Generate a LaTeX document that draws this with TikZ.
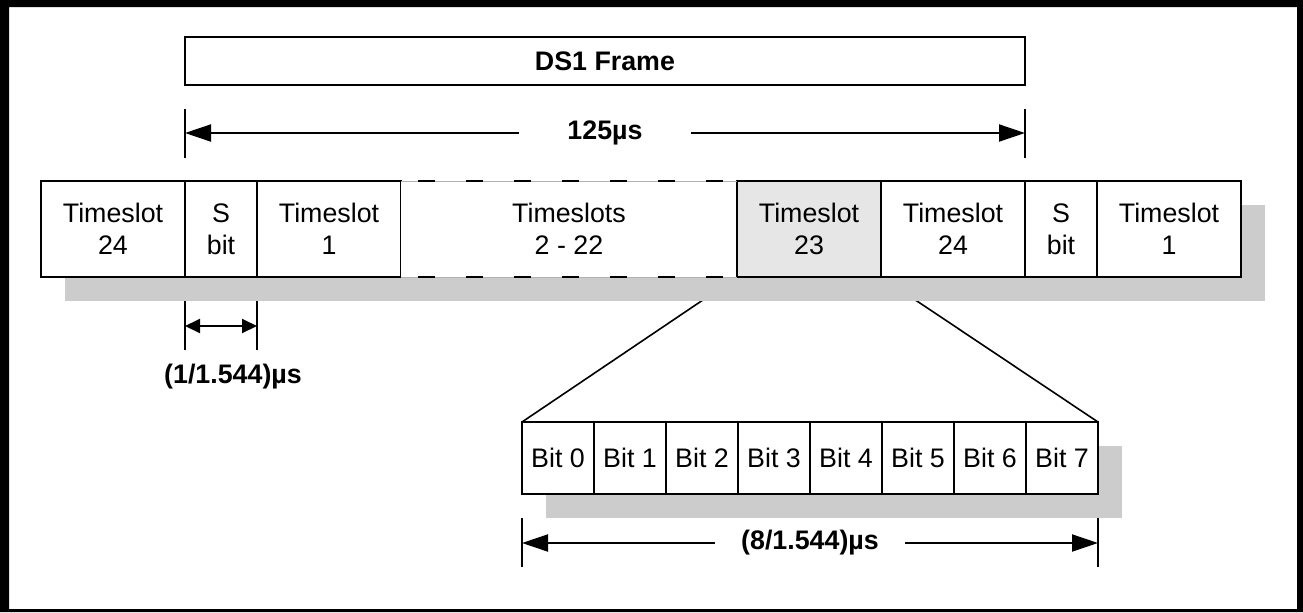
\documentclass[tikz,border=0pt]{standalone}
\usepackage{fontspec}
\setmainfont{Liberation Sans}
\usetikzlibrary{positioning,calc,arrows.meta,backgrounds}

\definecolor{shadowgray}{RGB}{204,204,204}
\definecolor{slotgray}{RGB}{230,230,230}
\newcommand{\labelfont}{\fontsize{13.4}{16}\selectfont}

\tikzset{
  slot/.style={draw, line width=1pt, fill=white, minimum width=72pt, minimum height=48pt,
    inner sep=0pt, outer sep=0pt, align=center},
  sbox/.style={slot, minimum width=36pt},
  bitbox/.style={draw, line width=1pt, fill=white, minimum width=36pt, minimum height=36pt,
    inner sep=0pt, outer sep=0pt},
  dimline/.style={line width=1pt, {Triangle[length=13pt,width=8.5pt]}-{Triangle[length=13pt,width=8.5pt]}},
  smalldim/.style={line width=1pt, {Triangle[length=7.5pt,width=7pt]}-{Triangle[length=7.5pt,width=7pt]}},
  boldtext/.style={font=\labelfont\bfseries},
  dimlabel/.style={fill=white, inner ysep=2pt, boldtext},
}

\begin{document}
\begin{tikzpicture}[x=0.5pt, y=-0.5pt, font=\labelfont]
\useasboundingbox (0,0) rectangle (1303,612);
\fill[even odd rule] (0,0) rectangle (1303,612) (9,7) rectangle (1297,609);

% frame
\node[draw, line width=1pt, minimum width=420pt, minimum height=24pt, inner sep=0pt,
  outer sep=0pt, anchor=north west, boldtext] (frame) at (185,37) {DS1 Frame};

% timeslots
\node[slot, anchor=north west] (ts24a) at (41,181) {Timeslot\\24};
\node[sbox, right=0pt of ts24a] (sa) {S\\bit};
\node[slot, right=0pt of sa] (ts1a) {Timeslot\\1};
\node[slot, draw=none, minimum width=168pt, right=0pt of ts1a] (ts2) {Timeslots\\2 - 22};
\node[slot, fill=slotgray, right=0pt of ts2] (ts23) {Timeslot\\23};
\node[slot, right=0pt of ts23] (ts24b) {Timeslot\\24};
\node[sbox, right=0pt of ts24b] (sb) {S\\bit};
\node[slot, right=0pt of sb] (ts1b) {Timeslot\\1};

\draw[gray!60, line width=0.4pt] (ts2.north west)--(ts2.north east) (ts2.south west)--(ts2.south east);
\draw[line width=1pt, dash pattern=on 8.5pt off 15.5pt, dash phase=15.5pt]
  (ts2.north west)--(ts2.north east) (ts2.south west)--(ts2.south east);

% bits
\foreach \i in {0,...,7}{
	\node[bitbox, anchor=north west] (bit\i) at ({522+72*\i},422) {Bit \i};
}

\begin{scope}[on background layer]
\draw[line width=0.8pt] (ts23.south west)--(bit0.north west);
\draw[line width=0.8pt] (ts23.south east)--(bit7.north east);
\fill[shadowgray] ($(ts24a.north west)+(24,24)$) rectangle ($(ts1b.south east)+(24,24)$);
\fill[shadowgray] ($(bit0.north west)+(24,24)$) rectangle ($(bit7.south east)+(24,24)$);
\end{scope}

% dimensions
\foreach \p in {frame.south west, frame.south east, sa.south west, sa.south east, bit0.south west, bit7.south east}{
	\draw[line width=1pt] ($(\p)+(0,24)$)--($(\p)+(0,73)$);
}

\draw[dimline] ($(frame.south west)+(0,48)$)--($(frame.south east)+(0,48)$)
  node[midway, dimlabel, inner xsep=24pt] (framelen) {125µs};
\draw[smalldim] ($(sa.south west)+(0,49)$)--($(sa.south east)+(0,49)$);
\node[boldtext] (sbitlen) at (233,377) {(1/1.544)µs};
\draw[dimline] ($(bit0.south west)+(0,49)$)--($(bit7.south east)+(0,49)$)
  node[midway, dimlabel, inner xsep=13pt] (bytelen) {(8/1.544)µs};

\end{tikzpicture}
\end{document}
